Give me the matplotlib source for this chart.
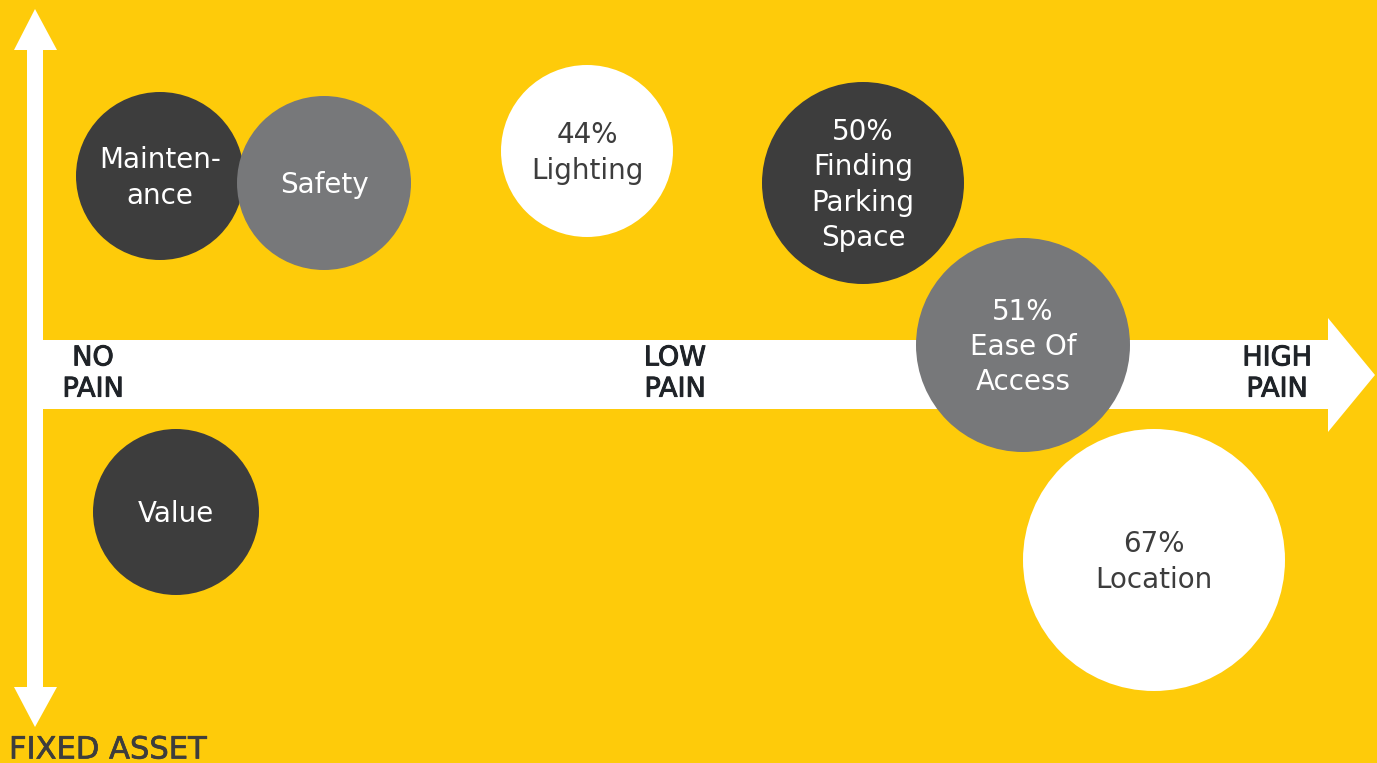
import numpy as np
import matplotlib.pyplot as plt
from matplotlib.patches import Circle, Polygon
import matplotlib.patheffects as pe

# colours
yellow = '#FECB0A'
dark = '#3D3D3D'
grey = '#77787A'
white = '#FFFFFF'

# bubble data (pixel space of the original 1377x763 graphic)
labels = ['Mainten-\nance', 'Safety', '44%\nLighting', '50%\nFinding\nParking\nSpace',
          '51%\nEase Of\nAccess', 'Value', '67%\nLocation']
x = [160, 324, 587, 863, 1023, 176, 1154]
y = [176, 183, 151, 183, 345, 512, 560]
radius = [84, 87, 86, 101, 107, 83, 131]
fill = [dark, grey, white, dark, grey, dark, white]
text_col = [white, white, dark, white, white, white, dark]

axis_labels = ['NO\nPAIN', 'LOW\nPAIN', 'HIGH\nPAIN']
axis_label_x = [93, 675, 1277]

W, H = 1377, 763
fig = plt.figure(figsize=(W/100, H/100), dpi=100)
fig.patch.set_facecolor(yellow)
ax = fig.add_axes([0, 0, 1, 1])
ax.set_xlim(0, W)
ax.set_ylim(H, 0)
ax.axis('off')

fnt = 'DejaVu Sans'

# vertical arrow (double headed)
ax.add_patch(Polygon([[27, 50], [43, 50], [43, 687], [27, 687]], closed=True, fc=white, ec='none', zorder=1))
ax.add_patch(Polygon([[14, 50], [35, 9], [57, 50]], closed=True, fc=white, ec='none', zorder=1))
ax.add_patch(Polygon([[14, 687], [35, 727], [57, 687]], closed=True, fc=white, ec='none', zorder=1))

# horizontal arrow
ax.add_patch(Polygon([[43, 340], [1328, 340], [1328, 318], [1375, 375],
                      [1328, 432], [1328, 409], [43, 409]], closed=True, fc=white, ec='none', zorder=1))

for lab, lx in zip(axis_labels, axis_label_x):
    ax.text(lx, 374, lab, ha='center', va='center', fontsize=19.5, color='#1F2328',
            family=fnt, linespacing=1.26, zorder=2,
            path_effects=[pe.withStroke(linewidth=0.7, foreground='#1F2328')])

ax.text(9, 750, 'FIXED ASSET', ha='left', va='center', fontsize=22, color=dark,
        family=fnt, zorder=2,
        path_effects=[pe.withStroke(linewidth=0.5, foreground=dark)])

# bubbles (draw order matters for overlaps)
for i in range(len(labels)):
    ax.add_patch(Circle((x[i], y[i]), radius[i], fc=fill[i], ec='none', zorder=3 + i))
    ax.text(x[i], y[i] + 2, labels[i], ha='center', va='center', fontsize=20,
            color=text_col[i], family=fnt, linespacing=1.32, zorder=3 + i)

fig.savefig('out.png', dpi=100, facecolor=yellow)
